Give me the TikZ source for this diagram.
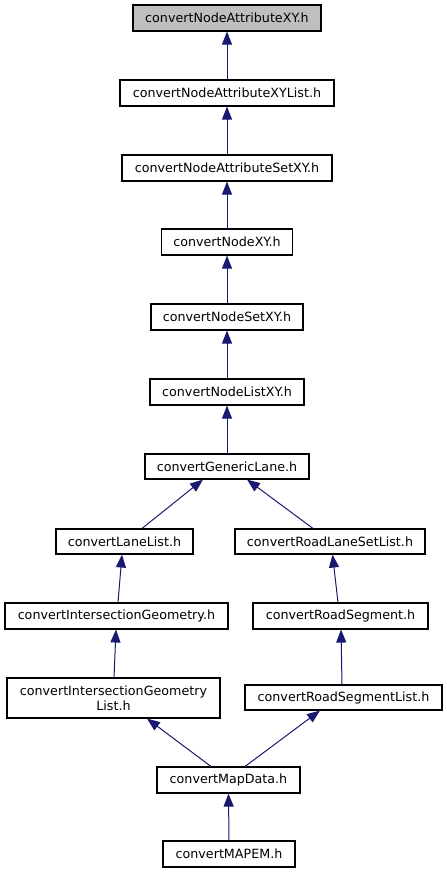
\documentclass[tikz,border=0pt]{standalone}
\usepackage{fontspec}
\setmainfont{DejaVu Sans}
\usetikzlibrary{arrows.meta}
\definecolor{edgeblue}{HTML}{191970}
\definecolor{curgray}{HTML}{BFBFBF}
\tikzset{
  box/.style={draw=black, line width=1.1pt, fill=white, inner sep=0pt,
    font=\fontsize{12.7}{15}\selectfont, align=center},
  dep/.style={draw=edgeblue, line width=1pt,
    {Triangle[length=13pt,width=10pt,fill=edgeblue]}-}
}
\begin{document}
\begin{tikzpicture}[x=1pt,y=-1pt]
\useasboundingbox (0,0) rectangle (447,873);
\node[box, fill=curgray, minimum width=188pt, minimum height=26pt] (n1) at (227,18) {convertNodeAttributeXY.h};
\node[box, minimum width=214pt, minimum height=26pt] (n2) at (227,93) {convertNodeAttributeXYList.h};
\node[box, minimum width=210pt, minimum height=26pt] (n3) at (227,168) {convertNodeAttributeSetXY.h};
\node[box, minimum width=131pt, minimum height=26pt] (n4) at (227,242) {convertNodeXY.h};
\node[box, minimum width=152pt, minimum height=26pt] (n5) at (227,317) {convertNodeSetXY.h};
\node[box, minimum width=154pt, minimum height=26pt] (n6) at (227,392) {convertNodeListXY.h};
\node[box, minimum width=164pt, minimum height=25pt] (n7) at (227,466.5) {convertGenericLane.h};
\node[box, minimum width=137pt, minimum height=25pt] (n8) at (124.5,541.5) {convertLaneList.h};
\node[box, minimum width=190pt, minimum height=25pt] (n9) at (330,541.5) {convertRoadLaneSetList.h};
\node[box, minimum width=223pt, minimum height=26pt] (n10) at (116.5,616) {convertIntersectionGeometry.h};
\node[box, minimum width=175pt, minimum height=26pt] (n11) at (340.5,616) {convertRoadSegment.h};
\node[box, minimum width=213pt, minimum height=40pt] (n12) at (113.5,698) {convertIntersectionGeometry\\List.h};
\node[box, minimum width=197pt, minimum height=25pt] (n13) at (343.5,697.5) {convertRoadSegmentList.h};
\node[box, minimum width=143pt, minimum height=26pt] (n14) at (228.5,780) {convertMapData.h};
\node[box, minimum width=132pt, minimum height=26pt] (n15) at (229,854) {convertMAPEM.h};
\draw[dep] (n1.south) -- (n2.north);
\draw[dep] (n2.south) -- (n3.north);
\draw[dep] (n3.south) -- (n4.north);
\draw[dep] (n4.south) -- (n5.north);
\draw[dep] (n5.south) -- (n6.north);
\draw[dep] (n6.south) -- (n7.north);
\draw[dep] ([xshift=-24pt]n7.south) -- ([xshift=17.5pt]n8.north);
\draw[dep] ([xshift=20pt]n7.south) -- ([xshift=-17pt]n9.north);
\draw[dep] ([xshift=-2.5pt]n8.south) -- ([xshift=1.5pt]n10.north);
\draw[dep] ([xshift=2.5pt]n9.south) -- ([xshift=-2.5pt]n11.north);
\draw[dep] ([xshift=-0.5pt]n10.south) -- ([xshift=0.5pt]n12.north);
\draw[dep] ([xshift=0.5pt]n11.south) -- ([xshift=-1.5pt]n13.north);
\draw[dep] ([xshift=33.5pt]n12.south) -- ([xshift=-17.5pt]n14.north);
\draw[dep] ([xshift=-23.5pt]n13.south) -- ([xshift=16.5pt]n14.north);
\draw[dep] (n14.south) -- (n15.north);
\end{tikzpicture}
\end{document}
